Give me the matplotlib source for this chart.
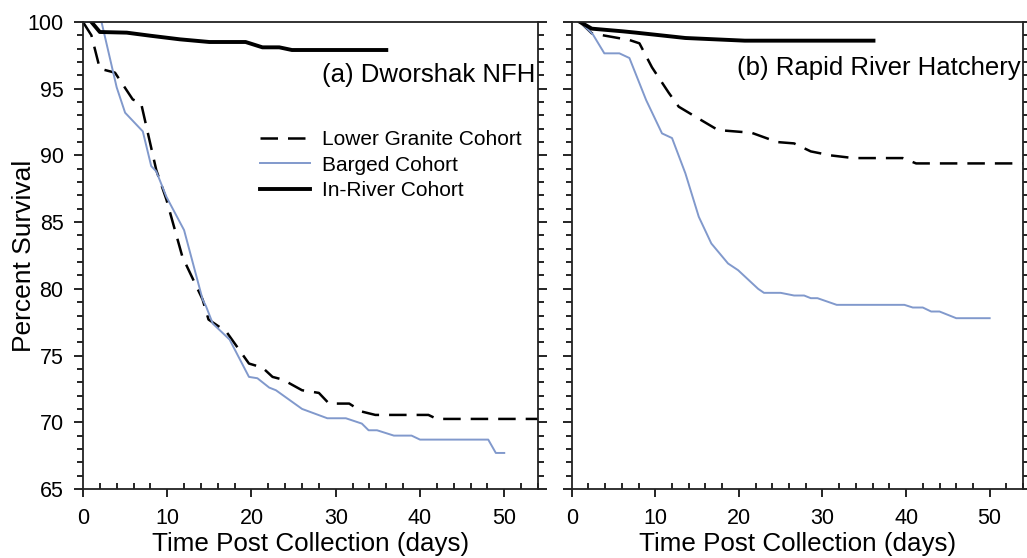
import matplotlib.pyplot as plt
from matplotlib.ticker import MultipleLocator

plt.rcParams['font.family'] = ['Liberation Sans', 'DejaVu Sans']

# ---- (a) Dworshak NFH ----
a_lg_day = [0, 1, 2, 3.8, 5.9, 6.9, 8.7, 9.9, 11.8, 14.2, 14.9, 17, 19.7, 21.3, 22.5, 23.7, 26, 28, 29.2, 31.6, 33.1, 34.7, 41, 42, 54]
a_lg_surv = [100, 99, 96.5, 96.2, 94.2, 93.9, 88.9, 86.7, 82.4, 79.2, 77.7, 76.8, 74.4, 74.1, 73.4, 73.2, 72.4, 72.2, 71.4, 71.4, 70.8, 70.55, 70.55, 70.25, 70.25]
a_bg_day = [0, 2.2, 4, 5, 7.1, 8.1, 8.7, 9.9, 12, 14.2, 14.6, 15.4, 17.4, 19.7, 20.7, 22.1, 22.9, 26, 29, 31.2, 33.1, 33.9, 34.9, 36.9, 39, 40, 48.1, 49, 50]
a_bg_surv = [100, 100, 95.1, 93.2, 91.8, 89.2, 88.8, 86.9, 84.4, 79.2, 78.7, 77.4, 76.2, 73.4, 73.3, 72.6, 72.4, 71.0, 70.3, 70.3, 69.9, 69.4, 69.4, 69.0, 69.0, 68.7, 68.7, 67.7, 67.7]
a_ir_day = [1, 2, 5.2, 8, 11.5, 15, 19.3, 21.3, 23.3, 24.8, 36]
a_ir_surv = [100, 99.25, 99.2, 98.97, 98.7, 98.5, 98.5, 98.1, 98.1, 97.9, 97.9]

# ---- (b) Rapid River Hatchery ----
b_lg_day = [1, 2.4, 6.9, 8.1, 9.6, 11.6, 12.8, 14.8, 17.5, 21.5, 24.6, 26.6, 28.6, 31, 33.7, 39.6, 41.2, 54]
b_lg_surv = [100, 99.15, 98.65, 98.4, 96.6, 94.7, 93.65, 92.9, 91.9, 91.7, 91.0, 90.9, 90.3, 90.0, 89.8, 89.8, 89.4, 89.4]
b_bg_day = [1, 2.5, 3.9, 5.7, 6.9, 8.9, 10.8, 12, 13.6, 15.2, 16.7, 18.7, 19.9, 22.3, 23, 25, 26.6, 27.8, 28.6, 29.4, 31.7, 39.8, 40.8, 42, 43, 44, 46, 50]
b_bg_surv = [100, 99.1, 97.65, 97.65, 97.3, 94.15, 91.65, 91.3, 88.65, 85.4, 83.4, 81.9, 81.4, 80.0, 79.7, 79.7, 79.5, 79.5, 79.3, 79.3, 78.8, 78.8, 78.6, 78.6, 78.3, 78.3, 77.8, 77.8]
b_ir_day = [1, 2.4, 6.1, 7.7, 13.6, 20.7, 36.1]
b_ir_surv = [100, 99.5, 99.3, 99.2, 98.8, 98.6, 98.6]

labels = ['Lower Granite Cohort', 'Barged Cohort', 'In-River Cohort']
blue = '#8199cc'

fig = plt.figure(figsize=(10.27, 5.58), dpi=100)
ax1 = fig.add_axes([0.0808, 0.1237, 0.443, 0.8369])
ax2 = fig.add_axes([0.5567, 0.1237, 0.4395, 0.8369])

panels = [
    (ax1, a_lg_day, a_lg_surv, a_bg_day, a_bg_surv, a_ir_day, a_ir_surv, '(a) Dworshak NFH', 0.886),
    (ax2, b_lg_day, b_lg_surv, b_bg_day, b_bg_surv, b_ir_day, b_ir_surv, '(b) Rapid River Hatchery', 0.901),
]

for ax, lgx, lgy, bgx, bgy, irx, iry, title, ty in panels:
    ax.plot(lgx, lgy, color='black', lw=1.8, ls=(0, (7, 4)), label=labels[0])
    ax.plot(bgx, bgy, color=blue, lw=1.4, label=labels[1])
    ax.plot(irx, iry, color='black', lw=2.8, label=labels[2])
    ax.set_xlim(0, 54)
    ax.set_ylim(65, 100)
    ax.xaxis.set_major_locator(MultipleLocator(10))
    ax.xaxis.set_minor_locator(MultipleLocator(2))
    ax.yaxis.set_major_locator(MultipleLocator(5))
    ax.yaxis.set_minor_locator(MultipleLocator(1))
    ax.tick_params(axis='y', which='both', direction='out', left=True, right=True, width=1.2)
    ax.tick_params(axis='y', which='major', length=6.5, pad=7.5)
    ax.tick_params(axis='y', which='minor', length=4)
    ax.tick_params(axis='x', which='major', direction='out', length=5.5, width=1.2, pad=8)
    ax.tick_params(axis='x', which='minor', direction='in', length=4, width=1.2)
    ax.tick_params(labelsize=15.5)
    for s in ax.spines.values():
        s.set_linewidth(1.3)
        s.set_color('#222222')
    ax.text(0.995, ty, title, transform=ax.transAxes, ha='right', va='center', fontsize=18.5)
    ax.set_xlabel('Time Post Collection (days)', fontsize=18.7, labelpad=2)

ax1.set_ylabel('Percent Survival', fontsize=19)
ax1.yaxis.set_label_coords(-0.103, 0.5)
ax2.tick_params(axis='y', labelleft=False)

ax1.legend(loc='upper left', bbox_to_anchor=(0.389, 0.768), frameon=False, fontsize=15,
           handlelength=2.4, handletextpad=0.6, labelspacing=0.3, borderaxespad=0,
           borderpad=0)

fig.savefig('out.png', dpi=100)
